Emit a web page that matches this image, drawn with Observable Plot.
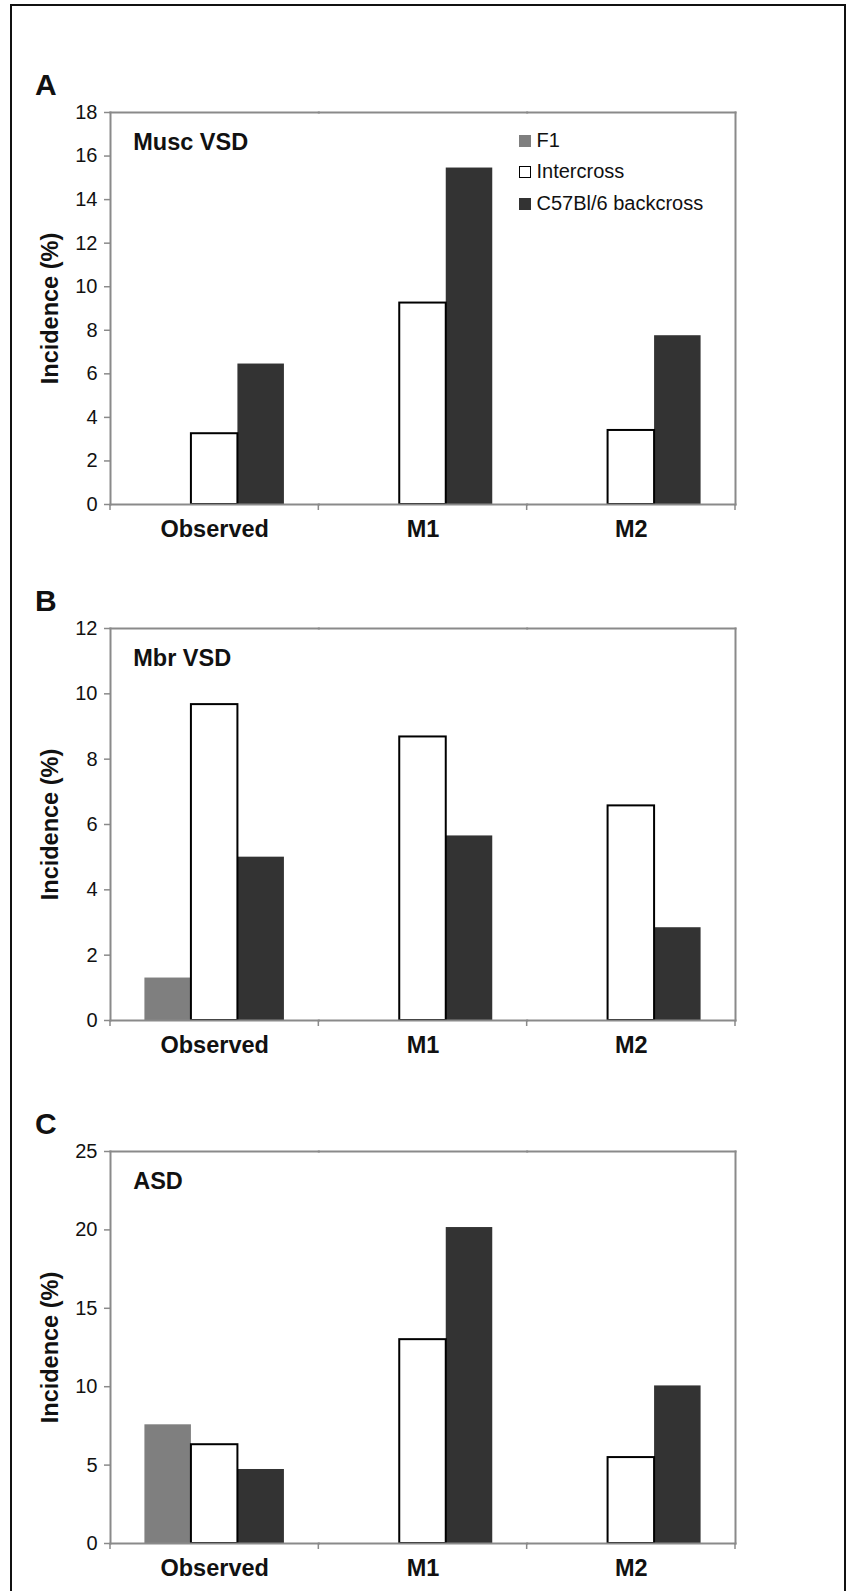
<!DOCTYPE html>
<html>
<head>
<meta charset="utf-8">
<script src="https://cdn.jsdelivr.net/npm/d3@7"></script>
<script src="https://cdn.jsdelivr.net/npm/@observablehq/plot@0.6"></script>
<style>
  html, body { margin: 0; padding: 0; background: #fff; }
  body {
    width: 847px; height: 1591px; position: relative; overflow: hidden;
    font-family: "Liberation Sans", Arial, Helvetica, sans-serif; color: #111;
  }
  #border {
    position: absolute; left: 10px; top: 4px; width: 836px; height: 1600px;
    box-sizing: border-box; border: 2px solid #111;
  }
  .panel { position: absolute; left: 0; }
  .letter {
    position: absolute; left: 35px; font-size: 30px; font-weight: bold; line-height: 30px;
  }
  .legend { position: absolute; left: 519px; top: 125px; font-size: 20px; }
  .legend .row {
    height: 31.4px; line-height: 31.4px; display: flex; align-items: flex-start; white-space: nowrap;
  }
  .legend .sw {
    width: 12px; height: 12px; margin-top: 10px; margin-right: 5.5px; box-sizing: border-box; flex: none;
  }
</style>
</head>
<body>
<div id="border"></div>
<script>
// Groups on the x axis and the three crosses shown in every panel
const categories = ["Observed", "M1", "M2"];
const series = ["F1", "Intercross", "C57Bl/6 backcross"];
const seriesColors = ["#7f7f7f", "#ffffff", "#333333"];
const yLabel = "Incidence (%)";

// Panel A: muscular VSD incidence (%)
const muscF1 = [null, null, null];
const muscIntercross = [3.25, 9.25, 3.4];
const muscBackcross = [6.45, 15.45, 7.75];
const muscTicks = [0, 2, 4, 6, 8, 10, 12, 14, 16, 18];

// Panel B: membranous VSD incidence (%)
const mbrF1 = [1.3, null, null];
const mbrIntercross = [9.67, 8.68, 6.57];
const mbrBackcross = [5.0, 5.65, 2.84];
const mbrTicks = [0, 2, 4, 6, 8, 10, 12];

// Panel C: ASD incidence (%)
const asdF1 = [7.57, null, null];
const asdIntercross = [6.3, 13.0, 5.48];
const asdBackcross = [4.72, 20.15, 10.05];
const asdTicks = [0, 5, 10, 15, 20, 25];

const panels = [
  {letter: "A", title: "Musc VSD", f1: muscF1, intercross: muscIntercross, backcross: muscBackcross, ticks: muscTicks, top: 92, legend: true},
  {letter: "B", title: "Mbr VSD", f1: mbrF1, intercross: mbrIntercross, backcross: mbrBackcross, ticks: mbrTicks, top: 608.3},
  {letter: "C", title: "ASD", f1: asdF1, intercross: asdIntercross, backcross: asdBackcross, ticks: asdTicks, top: 1130.7}
];

const frameColor = "#8a8a8a";
const textColor = "#111";
const fontFamily = '"Liberation Sans", Arial, Helvetica, sans-serif';

function rowsFor(p) {
  const rows = [];
  const bySeries = [p.f1, p.intercross, p.backcross];
  categories.forEach((category, i) => {
    series.forEach((s, j) => {
      const v = bySeries[j][i];
      if (v != null) rows.push({category, series: s, value: v});
    });
  });
  return rows;
}

function drawPanel(p) {
  const rows = rowsFor(p);
  const yMax = p.ticks[p.ticks.length - 1];
  const plot = Plot.plot({
    width: 760,
    height: 460,
    marginLeft: 110,
    marginRight: 25,
    marginTop: 20,
    marginBottom: 48,
    style: {fontFamily, fontSize: "20px", color: textColor, background: "transparent", overflow: "visible"},
    fx: {domain: categories, padding: 0, round: false, axis: null, label: null},
    x: {domain: series, paddingInner: 0, paddingOuter: 0.74, round: false, axis: null},
    y: {domain: [0, yMax], axis: null},
    color: {domain: series, range: seriesColors},
    marks: [
      Plot.barY(rows, {fx: "category", x: "series", y: "value", fill: "series"}),
      Plot.barY(rows, {
        fx: "category", x: "series", y: "value",
        filter: d => d.series === "Intercross",
        fill: "none", stroke: "#000", strokeWidth: 2
      }),
      Plot.frame({anchor: "top", stroke: frameColor, strokeWidth: 2}),
      Plot.frame({anchor: "bottom", stroke: frameColor, strokeWidth: 2}),
      Plot.frame({anchor: "left", facetAnchor: "left", stroke: frameColor, strokeWidth: 2}),
      Plot.frame({anchor: "right", facetAnchor: "right", stroke: frameColor, strokeWidth: 2}),
      Plot.axisY({
        ticks: p.ticks, tickSize: 6, tickPadding: 7, label: null,
        stroke: frameColor, strokeWidth: 1.5, fill: textColor, fontSize: 20
      }),
      Plot.axisFx({
        anchor: "bottom", tickSize: 0, tickPadding: 16, label: null,
        fill: textColor, fontSize: 23.5, fontWeight: "bold"
      }),
      Plot.text([p.title], {
        text: d => d, frameAnchor: "top-left", facetAnchor: "left",
        textAnchor: "start", lineAnchor: "top", dx: 22.7, dy: 21.3,
        fontSize: 23.5, fontWeight: "bold", fill: textColor
      }),
      Plot.text([yLabel], {
        text: d => d, frameAnchor: "left", facetAnchor: "left",
        rotate: -90, textAnchor: "middle", lineAnchor: "middle", dx: -60,
        fontSize: 23.5, fontWeight: "bold", fill: textColor
      })
    ]
  });

  // Short tick marks under the baseline at the edges of each category band
  const fxs = plot.scale("fx");
  const band = d3.scaleBand(fxs.domain, fxs.range)
    .paddingInner(fxs.paddingInner || 0)
    .paddingOuter(fxs.paddingOuter || 0);
  const edges = fxs.domain.map(d => band(d) - band.step() * band.paddingInner() / 2);
  edges[0] = fxs.range[0];
  edges.push(fxs.range[1]);
  const y0 = plot.scale("y").apply(0);
  d3.select(plot).append("g")
    .attr("stroke", frameColor).attr("stroke-width", 1.5)
    .selectAll("line").data(edges).join("line")
    .attr("x1", d => d).attr("x2", d => d)
    .attr("y1", y0).attr("y2", y0 + 6);

  const holder = document.createElement("div");
  holder.className = "panel";
  holder.style.top = p.top + "px";
  holder.appendChild(plot);
  document.body.appendChild(holder);

  const letter = document.createElement("div");
  letter.className = "letter";
  letter.textContent = p.letter;
  letter.style.top = (p.top + 20 - 42) + "px";
  document.body.appendChild(letter);

  if (p.legend) {
    const legend = document.createElement("div");
    legend.className = "legend";
    series.forEach((s, j) => {
      const row = document.createElement("div");
      row.className = "row";
      const sw = document.createElement("span");
      sw.className = "sw";
      sw.style.background = seriesColors[j];
      if (s === "Intercross") sw.style.border = "1.5px solid #000";
      const label = document.createElement("span");
      label.textContent = s;
      row.appendChild(sw);
      row.appendChild(label);
      legend.appendChild(row);
    });
    document.body.appendChild(legend);
  }
}

panels.forEach(drawPanel);
</script>
</body>
</html>
